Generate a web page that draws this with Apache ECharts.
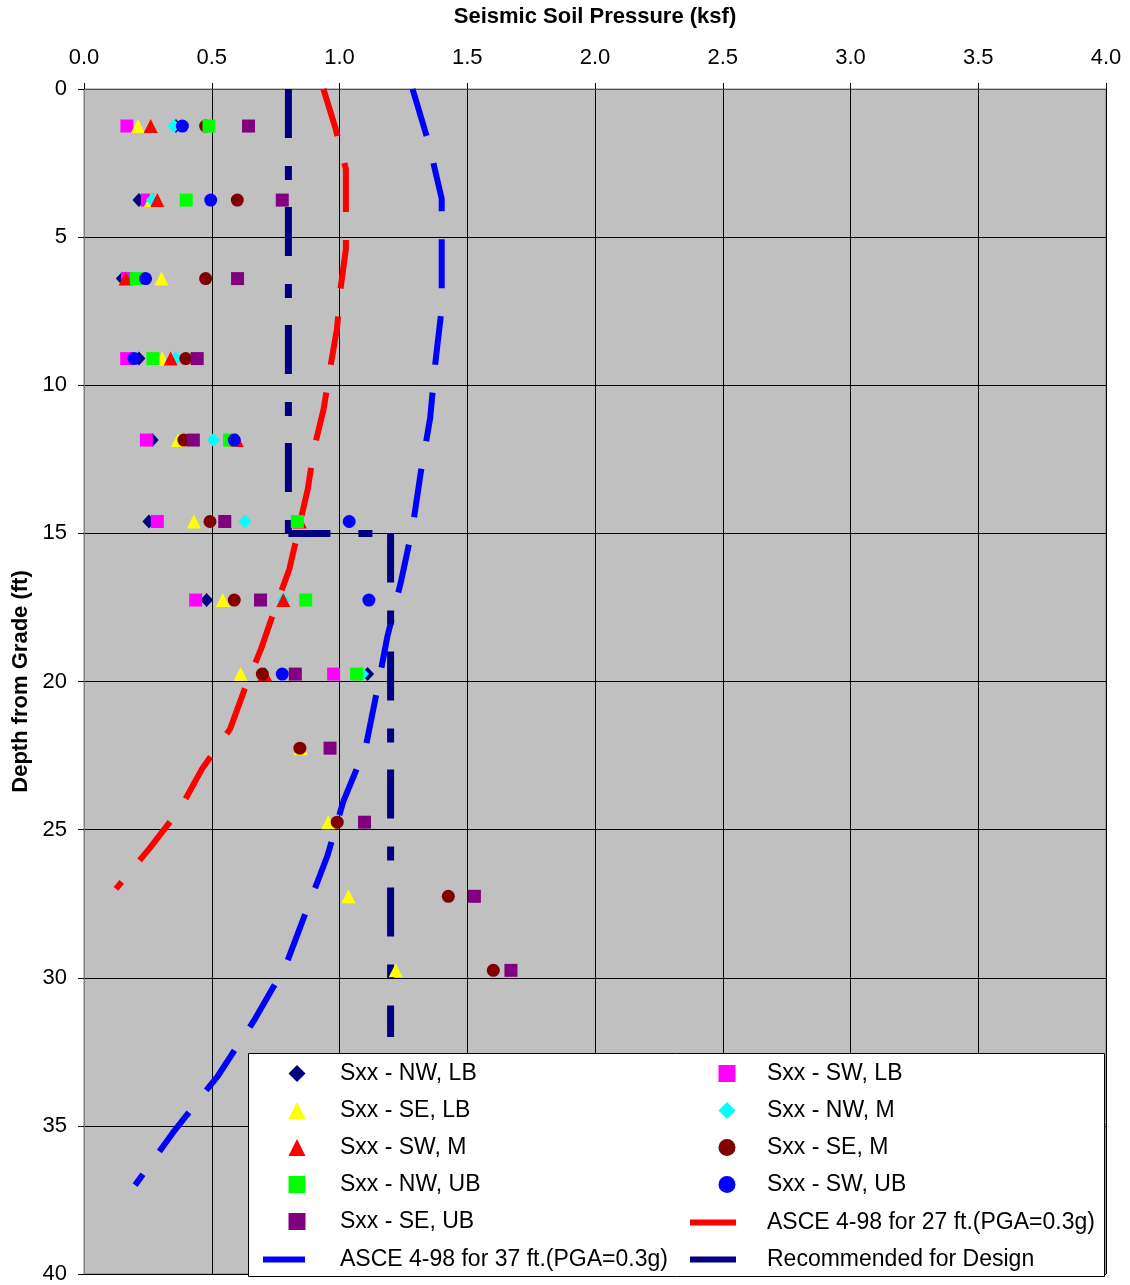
<!DOCTYPE html>
<html>
<head>
<meta charset="utf-8">
<script src="https://cdn.jsdelivr.net/npm/echarts@6/dist/echarts.min.js"></script>
<style>
html,body{margin:0;padding:0;background:#fff;}
#chart{width:1130px;height:1285px;}
</style>
</head>
<body>
<div id="chart"></div>
<script>
// ---- Data ----
var xTicks = ['0.0','0.5','1.0','1.5','2.0','2.5','3.0','3.5','4.0'];
var depths = [1.25, 3.75, 6.4, 9.1, 11.85, 14.6, 17.25, 19.75, 22.25, 24.75, 27.25, 29.75];

var nwLB = [0.36, 0.215, 0.15, 0.215, 0.267, 0.254, 0.48, 1.11];
var swLB = [0.168, 0.248, 0.17, 0.167, 0.244, 0.287, 0.437, 0.977];
var seLB = [0.211, 0.262, 0.303, 0.306, 0.368, 0.43, 0.543, 0.613, 0.848, 0.956, 1.035, 1.22];
var nwM  = [0.352, 0.267, 0.205, 0.359, 0.506, 0.63, 0.78, 1.09];
var swM  = [0.261, 0.287, 0.163, 0.339, 0.598, 0.845, 0.78, 0.708];
var seM  = [0.476, 0.60, 0.476, 0.398, 0.391, 0.493, 0.588, 0.698, 0.845, 0.991, 1.426, 1.602];
var nwUB = [0.489, 0.40, 0.205, 0.27, 0.57, 0.835, 0.868, 1.067];
var swUB = [0.385, 0.496, 0.241, 0.196, 0.588, 1.038, 1.115, 0.776];
var seUB = [0.644, 0.776, 0.601, 0.443, 0.428, 0.551, 0.691, 0.827, 0.963, 1.098, 1.528, 1.671];

var asce27Depth = [0,1.35,2.7,4.05,5.4,6.75,8.1,9.45,10.8,12.15,13.5,14.85,16.2,17.55,18.9,20.25,21.6,22.95,24.3,25.65,27];
var asce27Val   = [0.937,0.985,1.025,1.025,1.025,1.004,0.99,0.963,0.938,0.90,0.876,0.84,0.804,0.747,0.693,0.629,0.572,0.462,0.376,0.255,0.125];

var asce37Depth = [0,1.85,3.7,5.55,7.4,9.25,11.1,12.95,14.8,16.65,18.5,20.35,22.2,24.05,25.9,27.75,29.6,31.45,33.3,35.15,37];
var asce37Val   = [1.286,1.35,1.40,1.40,1.40,1.375,1.355,1.318,1.286,1.24,1.187,1.146,1.103,1.015,0.952,0.87,0.789,0.665,0.525,0.355,0.2];

var designDepth = [0, 15, 15, 32];
var designVal   = [0.8, 0.8, 1.2, 1.2];

// ---- Helpers ----
function pairs(vals, ds){ return vals.map(function(v,i){ return [v, ds[i]]; }); }

var FONT = 'Liberation Sans, Arial, sans-serif';

function scatter(name, vals, symbol, size, color){
  return { name:name, type:'scatter', data:pairs(vals, depths), symbol:symbol, symbolSize:size,
    itemStyle:{color:color, opacity:1}, z:4, silent:true, animation:false };
}
function line(name, data, color, width, dash, offset){
  return { name:name, type:'line', data:data, symbol:'none', showSymbol:false,
    lineStyle:{color:color, width:width, type:dash, dashOffset:offset || 0, cap:'butt', opacity:1},
    itemStyle:{color:color}, z:3, silent:true, animation:false };
}

var designPts = pairs(designVal, designDepth);
var DESIGN = 'Recommended for Design';
var designDash = [49,28,14,27];

var series = [
  scatter('Sxx - NW, LB', nwLB, 'diamond', [13,14], '#000080'),
  scatter('Sxx - SW, LB', swLB, 'rect', 13, '#FF00FF'),
  scatter('Sxx - SE, LB', seLB, 'triangle', 14, '#FFFF00'),
  scatter('Sxx - NW, M', nwM, 'diamond', [13,14], '#00FFFF'),
  scatter('Sxx - SW, M', swM, 'triangle', 14, '#FF0000'),
  scatter('Sxx - SE, M', seM, 'circle', 13, '#800000'),
  scatter('Sxx - NW, UB', nwUB, 'rect', 13, '#00FF00'),
  scatter('Sxx - SW, UB', swUB, 'circle', 13, '#0000FF'),
  scatter('Sxx - SE, UB', seUB, 'rect', 13, '#800080'),
  line('ASCE 4-98 for 27 ft.(PGA=0.3g)', pairs(asce27Val, asce27Depth), '#FF0000', 6, [49,28]),
  line('ASCE 4-98 for 37 ft.(PGA=0.3g)', pairs(asce37Val, asce37Depth), '#0000FF', 6, [49,28]),
  // design line: each leg restarts its dash pattern, as in the reference
  line(DESIGN, designPts.slice(0,2), '#000080', 7, designDash, 0),
  line(DESIGN, designPts.slice(1,3), '#000080', 7, designDash, 7),
  line(DESIGN, designPts.slice(2,4), '#000080', 7, designDash, 0)
];

var ROW0 = 1063, ROW = 37;
function legendBlock(left, top, w, h, padLeft, items){
  return {
    orient:'vertical', left:left, top:top, itemWidth:w, itemHeight:h, itemGap:14, padding:0,
    selectedMode:false, z:10, symbolKeepAspect:false,
    textStyle:{fontFamily:FONT, fontSize:23, color:'#000', padding:[0,0,0,padLeft]},
    data:items
  };
}
function lineItem(name, dash){ return {name:name, lineStyle:{width:6, type:dash}, itemStyle:{opacity:0}}; }

var option = {
  animation:false,
  backgroundColor:'#ffffff',
  grid:{left:84, right:24, top:89, bottom:9, show:true, backgroundColor:'#C0C0C0', borderColor:'#808080', borderWidth:1},
  xAxis:{
    type:'value', position:'top', min:0, max:4, interval:0.5,
    name:'Seismic Soil Pressure (ksf)', nameLocation:'middle', nameGap:61,
    nameTextStyle:{fontFamily:FONT, fontSize:22, fontWeight:'bold', color:'#000'},
    axisLine:{show:true, lineStyle:{color:'#555555', width:1}},
    axisTick:{show:true, inside:false, length:6, lineStyle:{color:'#000'}},
    axisLabel:{margin:20, fontFamily:FONT, fontSize:22, color:'#000',
      formatter:function(v){ var i=Math.round(v/0.5); return xTicks[i]; }},
    splitLine:{show:true, lineStyle:{color:'#000', width:1}}
  },
  yAxis:{
    type:'value', inverse:true, min:0, max:40, interval:5,
    name:'Depth from Grade (ft)', nameLocation:'middle', nameGap:52,
    nameTextStyle:{fontFamily:FONT, fontSize:22, fontWeight:'bold', color:'#000'},
    axisLine:{show:true, lineStyle:{color:'#808080', width:1}},
    axisTick:{show:true, inside:false, length:6, lineStyle:{color:'#000'}},
    axisLabel:{margin:17, fontFamily:FONT, fontSize:22, color:'#000'},
    splitLine:{show:true, lineStyle:{color:'#000', width:1}}
  },
  graphic:[{type:'rect', z:5, shape:{x:248.5, y:1053.5, width:856, height:223},
    style:{fill:'#ffffff', stroke:'#000000', lineWidth:1}}],
  legend:[
    legendBlock(288.5, ROW0 - 1, 17, 17, 29.5,
      ['Sxx - NW, LB','Sxx - SE, LB','Sxx - SW, M','Sxx - NW, UB','Sxx - SE, UB']),
    legendBlock(260, ROW0 + 5*ROW, 72, 14, 0,
      [lineItem('ASCE 4-98 for 37 ft.(PGA=0.3g)', [42,33])]),
    legendBlock(718.5, ROW0 - 1, 17, 17, 26.5,
      ['Sxx - SW, LB','Sxx - NW, M','Sxx - SE, M','Sxx - SW, UB']),
    legendBlock(687, ROW0 + 4*ROW, 72, 14, 0,
      [lineItem('ASCE 4-98 for 27 ft.(PGA=0.3g)', [46,28]),
       lineItem(DESIGN, [46,28,4,20])])
  ],
  series:series
};

var chart = echarts.init(document.getElementById('chart'), null, {renderer:'canvas'});
chart.setOption(option);
</script>
</body>
</html>
